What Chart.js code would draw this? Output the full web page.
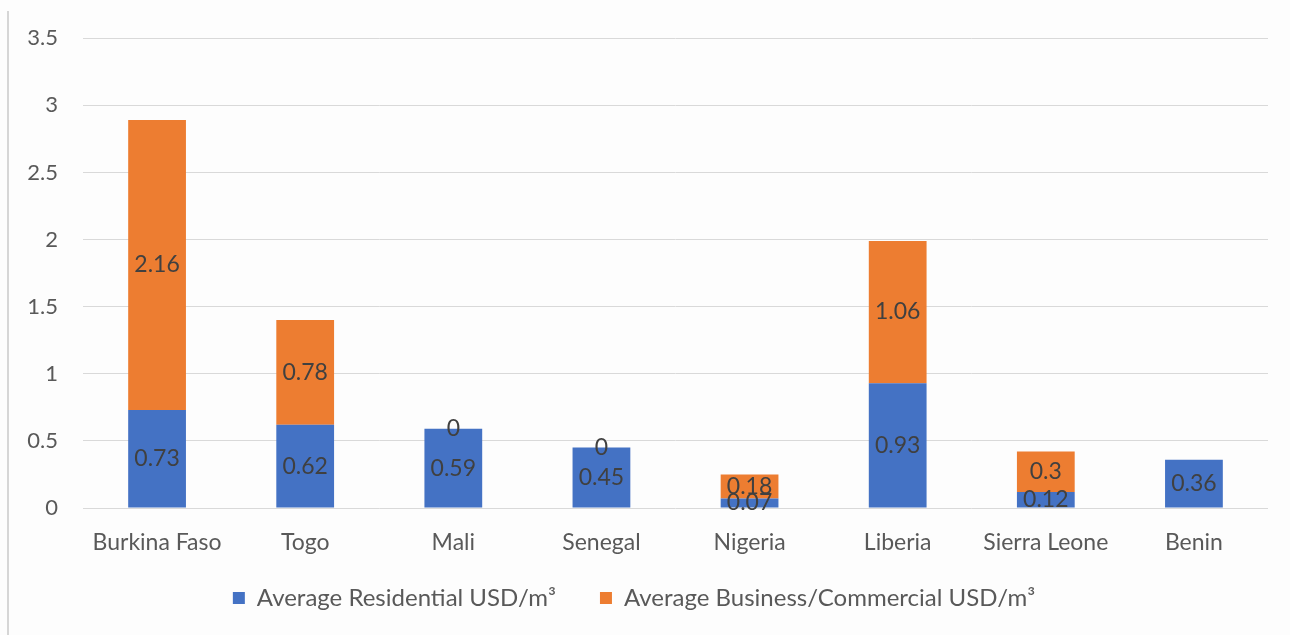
<!DOCTYPE html>
<html>
<head>
<meta charset="utf-8">
<script src="https://cdn.jsdelivr.net/npm/chart.js@4.4.1/dist/chart.umd.min.js"></script>
<style>
  html, body { margin: 0; padding: 0; background: #fdfdfd; }
  #wrap { position: relative; width: 1290px; height: 635px; }
  #edge { position: absolute; left: 7px; top: 11px; width: 2px; height: 624px; background: #d6d6d6; }
  canvas { position: absolute; left: 0; top: 0; }
</style>
</head>
<body>
<div id="wrap">
  <div id="edge"></div>
  <canvas id="chart" width="1290" height="635"></canvas>
</div>
<script>
// Countries along the x axis
const categories = ['Burkina Faso', 'Togo', 'Mali', 'Senegal', 'Nigeria', 'Liberia', 'Sierra Leone', 'Benin'];
// Average price per cubic metre, by customer type
const residential = [0.73, 0.62, 0.59, 0.45, 0.07, 0.93, 0.12, 0.36];
const commercial = [2.16, 0.78, 0, 0, 0.18, 1.06, 0.3, null];
const seriesNames = ['Average Residential USD/m\u00B3', 'Average Business/Commercial USD/m\u00B3'];
const yTicks = [0, 0.5, 1, 1.5, 2, 2.5, 3, 3.5];

const FONT = 'Lato, "Open Sans", sans-serif';

// Writes each segment's value in the middle of the segment
const segmentLabels = {
  id: 'segmentLabels',
  afterDatasetsDraw(chart) {
    const ctx = chart.ctx;
    ctx.save();
    ctx.font = '23px ' + FONT;
    ctx.fillStyle = '#404040';
    ctx.textAlign = 'center';
    ctx.textBaseline = 'middle';
    chart.data.datasets.forEach((ds, i) => {
      const meta = chart.getDatasetMeta(i);
      meta.data.forEach((bar, j) => {
        const v = ds.data[j];
        if (v === null || v === undefined) return;
        const p = bar.getProps(['x', 'y', 'base'], true);
        ctx.fillText(String(v), p.x, (p.y + p.base) / 2);
      });
    });
    ctx.restore();
  }
};

// Fixed legend height; its top edge is then raised so the row sits nearer the axis labels
const legendPlacement = {
  id: 'legendPlacement',
  beforeLayout(chart) {
    const lg = chart.legend;
    if (lg && !lg._fixedHeight) {
      const fit = lg.fit;
      lg.fit = function () { fit.call(this); this.height = 66; };
      lg._fixedHeight = true;
    }
  },
  afterLayout(chart) {
    const lg = chart.legend;
    if (lg) { lg.top -= 27; lg.height += 27; }
  }
};

new Chart(document.getElementById('chart'), {
  type: 'bar',
  data: {
    labels: categories,
    datasets: [
      { label: seriesNames[0], data: residential, backgroundColor: '#4472C4' },
      { label: seriesNames[1], data: commercial, backgroundColor: '#ED7D31' }
    ]
  },
  options: {
    responsive: false,
    animation: false,
    devicePixelRatio: 1,
    layout: { padding: { top: 18, right: 22, left: 0, bottom: 0 } },
    datasets: { bar: { categoryPercentage: 1, barPercentage: 0.39 } },
    scales: {
      x: {
        stacked: true,
        grid: { display: false },
        border: { display: false },
        ticks: { color: '#595959', font: { family: FONT, size: 23 }, padding: 13, maxRotation: 0, autoSkip: false },
        afterFit(scale) { scale.height = 61; }
      },
      y: {
        stacked: true,
        min: 0,
        max: 3.5,
        afterBuildTicks(scale) { scale.ticks = yTicks.map(v => ({ value: v })); },
        grid: { color: '#d9d9d9', lineWidth: 1, drawTicks: false },
        border: { display: false },
        ticks: {
          color: '#595959',
          font: { family: FONT, size: 22 },
          padding: 25,
          callback: v => String(v)
        },
        afterFit(scale) { scale.width = 83; }
      }
    },
    plugins: {
      legend: {
        position: 'bottom',
        labels: {
          color: '#595959',
          font: { family: FONT, size: 24 },
          boxWidth: 12,
          boxHeight: 12,
          padding: 44
        }
      },
      tooltip: { enabled: false }
    }
  },
  plugins: [segmentLabels, legendPlacement]
});
</script>
</body>
</html>
